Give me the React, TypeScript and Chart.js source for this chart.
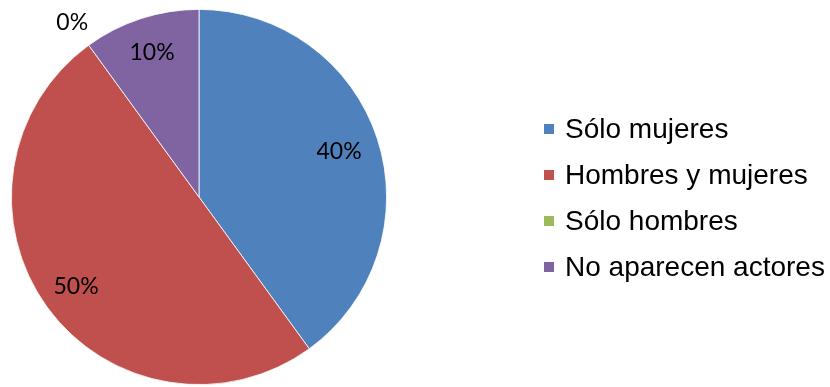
import React, { useEffect, useRef } from "react";
import { Chart, registerables } from "chart.js";

Chart.register(...registerables);

const categories = ["Sólo mujeres", "Hombres y mujeres", "Sólo hombres", "No aparecen actores"];
const values = [40, 50, 0, 10];
const valueLabels = ["40%", "50%", "0%", "10%"];
const colors = ["#4F81BD", "#C0504D", "#9BBB59", "#8064A2"];

const labelPlugin = {
  id: "sliceLabels",
  afterDatasetsDraw(chart: any) {
    const ctx = chart.ctx;
    const meta = chart.getDatasetMeta(0);
    const factors = [0.785, 0.81, 1.15, 0.81];
    ctx.save();
    ctx.font = "23px Lato, 'Open Sans', sans-serif";
    ctx.fillStyle = "#000";
    ctx.textAlign = "center";
    ctx.textBaseline = "middle";
    meta.data.forEach((arc: any, i: number) => {
      const p = arc.getProps(["x", "y", "startAngle", "endAngle", "outerRadius"], true);
      const mid = (p.startAngle + p.endAngle) / 2;
      const r = p.outerRadius * factors[i];
      ctx.fillText(valueLabels[i], p.x + Math.cos(mid) * r, p.y + Math.sin(mid) * r);
    });
    ctx.restore();
  },
};

const legendPlugin = {
  id: "customLegend",
  afterDraw(chart: any) {
    const ctx = chart.ctx;
    ctx.save();
    ctx.font = "28px 'Liberation Sans', Arial, sans-serif";
    ctx.textBaseline = "middle";
    ctx.textAlign = "left";
    categories.forEach((c, i) => {
      const y = 129 + i * 46;
      ctx.fillStyle = colors[i];
      ctx.fillRect(544, y - 5, 10, 10);
      ctx.fillStyle = "#000";
      ctx.fillText(c, 565, y + 1);
    });
    ctx.restore();
  },
};

export default function App() {
  const ref = useRef<HTMLCanvasElement>(null);
  useEffect(() => {
    if (!ref.current) return;
    const chart = new Chart(ref.current, {
      type: "pie",
      data: {
        labels: categories,
        datasets: [
          {
            data: values,
            backgroundColor: colors,
            borderColor: "#FFFFFF",
            borderWidth: 0.8,
          },
        ],
      },
      options: {
        responsive: false,
        animation: false,
        layout: { padding: { left: 11, top: 9, right: 443, bottom: 2 } },
        plugins: { legend: { display: false }, tooltip: { enabled: false } },
      },
      plugins: [labelPlugin, legendPlugin],
    });
    return () => chart.destroy();
  }, []);
  return (
    <div style={{ position: "absolute", left: 0, top: 0, width: 830, height: 387, background: "#fff" }}>
      <canvas ref={ref} width={830} height={387} />
    </div>
  );
}
